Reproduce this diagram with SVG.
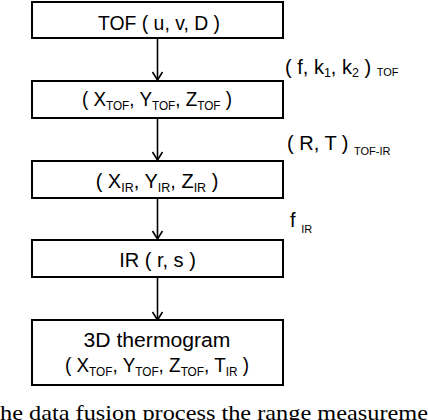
<svg xmlns="http://www.w3.org/2000/svg" width="428" height="420" viewBox="0 0 428 420">
<style>
.box{fill:#fff;stroke:#000;stroke-width:2}
.t{font-family:"Liberation Sans",Arial,sans-serif;font-size:20px;fill:#000}
.m{text-anchor:middle}
.s{font-size:12.5px}
.ss{font-size:11px}
.conn line{stroke:#000;stroke-width:1.6}
.cap{font-family:"Liberation Serif","Times New Roman",serif;font-size:22px;fill:#000}
</style>
<rect width="428" height="420" fill="#fff"/>
<g id="connectors" class="conn">
<line x1="157.5" y1="38" x2="157.5" y2="80"/>
<line x1="157.5" y1="118" x2="157.5" y2="160"/>
<line x1="157.5" y1="198" x2="157.5" y2="239"/>
<line x1="157.5" y1="277" x2="157.5" y2="320"/>
<path d="M152.5,72 L157.5,80 L162.5,72 M152.5,152 L157.5,160 L162.5,152 M152.5,231 L157.5,239 L162.5,231 M152.5,312 L157.5,320 L162.5,312" fill="none" stroke="#000" stroke-width="1.6"/>
</g>
<g id="n1">
<rect class="box" x="32" y="2" width="251" height="36"/>
<text class="t m" x="159" y="30" textLength="122" lengthAdjust="spacingAndGlyphs">TOF ( u, v, D )</text>
</g>
<g id="n2">
<rect class="box" x="32" y="81" width="251" height="37"/>
<text class="t m" x="157" y="106" textLength="150" lengthAdjust="spacingAndGlyphs">( X<tspan class="s" dy="4">TOF</tspan><tspan dy="-4">, Y</tspan><tspan class="s" dy="4">TOF</tspan><tspan dy="-4">, Z</tspan><tspan class="s" dy="4">TOF</tspan><tspan dy="-4"> )</tspan></text>
</g>
<g id="n3">
<rect class="box" x="32" y="161" width="251" height="37"/>
<text class="t m" x="157" y="188">( X<tspan class="s" dy="4">IR</tspan><tspan dy="-4">, Y</tspan><tspan class="s" dy="4">IR</tspan><tspan dy="-4">, Z</tspan><tspan class="s" dy="4">IR</tspan><tspan dy="-4"> )</tspan></text>
</g>
<g id="n4">
<rect class="box" x="32" y="240" width="251" height="37"/>
<text class="t m" x="157.5" y="267">IR ( r, s )</text>
</g>
<g id="n5">
<rect class="box" x="32" y="320" width="251" height="65"/>
<text class="t m" x="157" y="347" textLength="147" lengthAdjust="spacingAndGlyphs">3D thermogram</text>
<text class="t m" x="157" y="372" textLength="184" lengthAdjust="spacingAndGlyphs">( X<tspan class="s" dy="4">TOF</tspan><tspan dy="-4">, Y</tspan><tspan class="s" dy="4">TOF</tspan><tspan dy="-4">, Z</tspan><tspan class="s" dy="4">TOF</tspan><tspan dy="-4">, T</tspan><tspan class="s" dy="4">IR</tspan><tspan dy="-4"> )</tspan></text>
</g>
<g id="labels">
<text class="t" x="285" y="74">( f, k<tspan class="s" dy="3">1</tspan><tspan dy="-3">, k</tspan><tspan class="s" dy="3">2</tspan><tspan dy="-3"> ) </tspan><tspan class="ss" dy="2">TOF</tspan></text>
<text class="t" x="287" y="150">( R, T ) <tspan class="ss" dy="5">TOF-IR</tspan></text>
<text class="t" x="290" y="227">f <tspan class="ss" dy="6">IR</tspan></text>
</g>
<text class="cap" x="0" y="420" textLength="428" lengthAdjust="spacingAndGlyphs">he data fusion process the range measureme</text>
</svg>
